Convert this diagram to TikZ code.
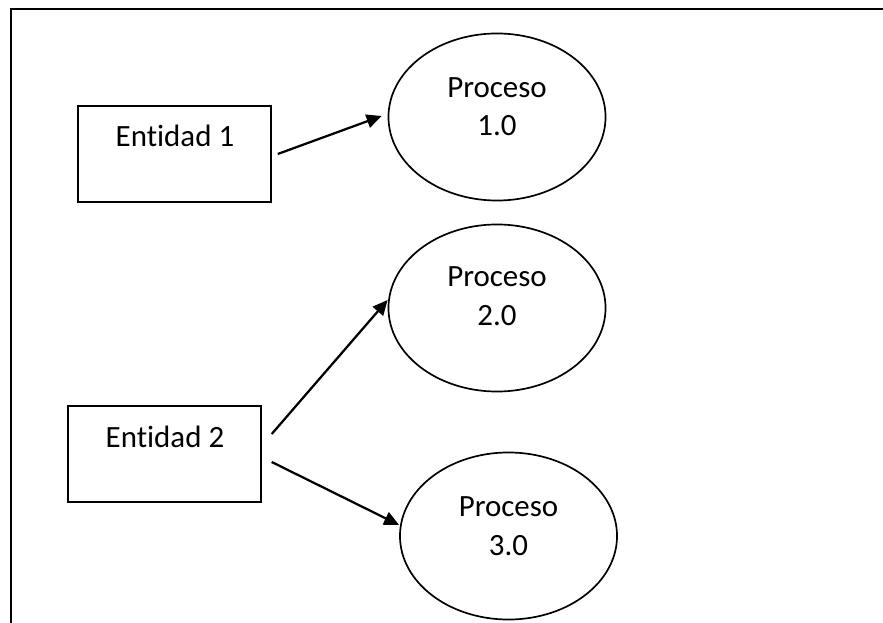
\documentclass[tikz,border=0pt]{standalone}
\usepackage{fontspec}
\setmainfont{Carlito}[Ligatures=NoCommon]
\usetikzlibrary{shapes.geometric,arrows.meta}

\begin{document}
\begin{tikzpicture}[x=0.025cm, y=-0.025cm,
		every node/.style={font=\fontsize{22}{27.7}\selectfont},
		entidad/.style={draw, line width=1pt, minimum width=4.825cm, minimum height=2.4cm, inner sep=0pt},
		proceso/.style={draw, ellipse, line width=1.2pt, minimum width=5.425cm, minimum height=4.175cm, inner sep=0pt},
		texto/.style={anchor=base, align=center, inner sep=0pt},
		flecha/.style={line width=1.6pt, -{Triangle[length=0.375cm, width=0.34cm]}}]
		
		% Marco (solo lados superior e izquierdo)
		\useasboundingbox (0,0) rectangle (883,623);
		\draw[line width=1.1pt] (11,623) -- (11,9) -- (883,9);
		
		% Entidades externas
		\node[entidad] (ent1) at (174.5,154) {};
		\node[texto] (tent1) at (175,147) {Entidad 1};
		
		\node[entidad] (ent2) at (164.5,454) {};
		\node[texto] (tent2) at (165,447) {Entidad 2};
		
		% Procesos
		\node[proceso] (proc1) at (497,117) {};
		\node[texto] (tproc1) at (497,136) {Proceso\\1.0};
		
		\node[proceso] (proc2) at (497,308) {};
		\node[texto] (tproc2) at (497,325) {Proceso\\2.0};
		
		\node[proceso] (proc3) at (508.5,536) {};
		\node[texto] (tproc3) at (508.5,555) {Proceso\\3.0};
		
		% Flujos
		\draw[flecha] ([shift={(6,0)}]ent1.east) -- ([shift={(-6,-1)}]proc1.west);
		\draw[flecha] ([shift={(10,-20)}]ent2.east) -- ([shift={(0,-8)}]proc2.west);
		\draw[flecha] ([shift={(10,8)}]ent2.east) -- ([shift={(0,-11)}]proc3.west);
		
	\end{tikzpicture}
\end{document}
